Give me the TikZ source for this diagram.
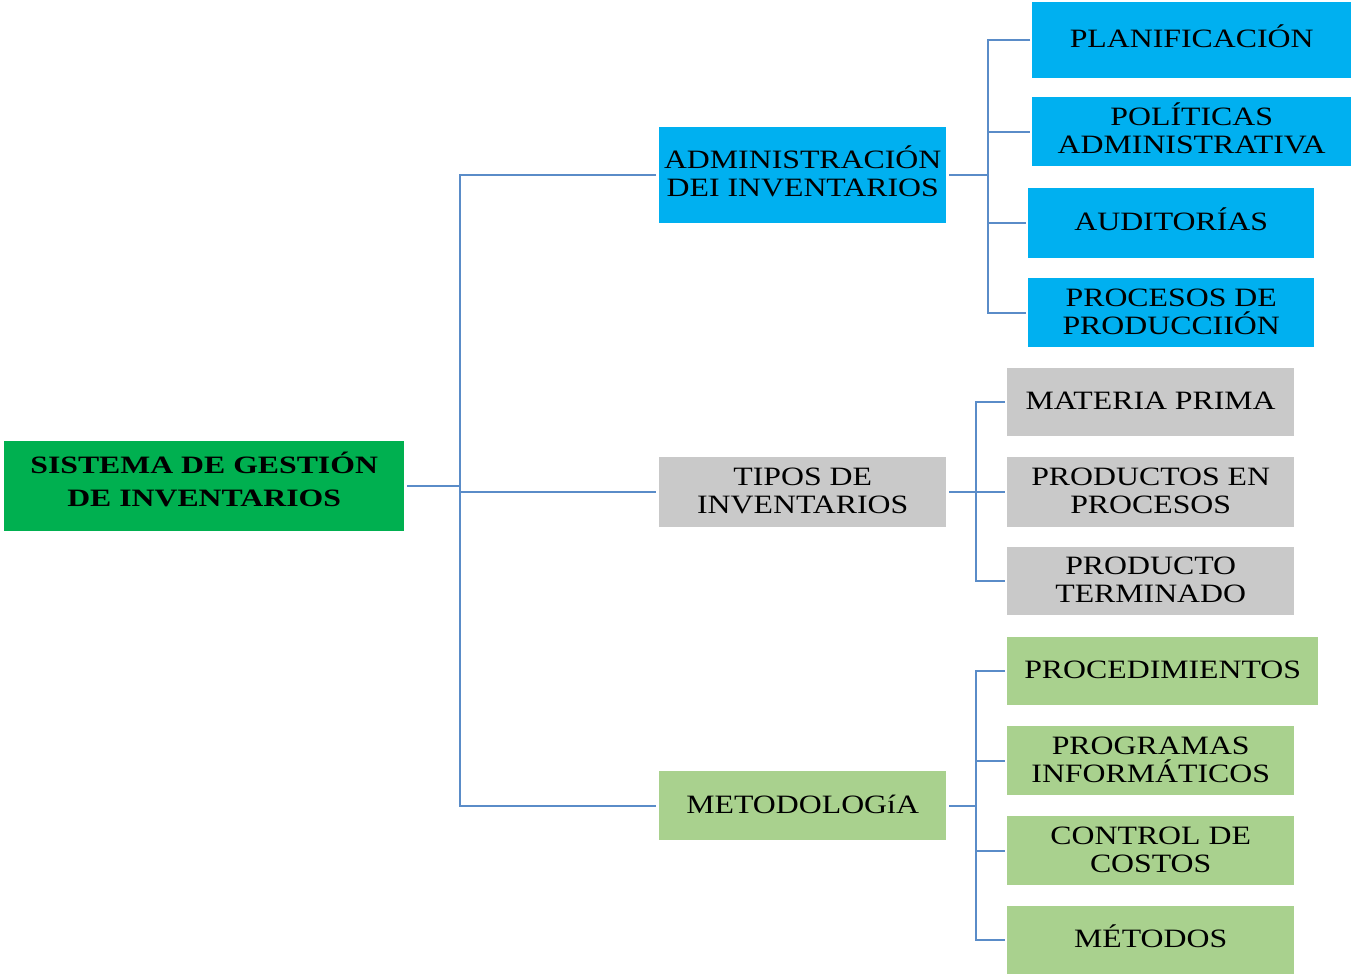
\documentclass[tikz,border=0pt]{standalone}
\usepackage{fontspec}
\setmainfont{Liberation Serif}[FakeStretch=1.2]
\newfontfamily\rootfont{Liberation Serif}[FakeStretch=1.27]
\newcommand\tightlines{\lineskiplimit=-50pt\relax\lineskip=0pt\relax}
\newcommand\ts{\rule{0pt}{24pt}}
\newcommand\botstrut[1]{\rule[-#1]{0pt}{#1}}
\definecolor{rootgreen}{HTML}{00B050}
\definecolor{skyblue}{HTML}{00B0F0}
\definecolor{boxgray}{HTML}{C9C9C9}
\definecolor{leafgreen}{HTML}{A9D18E}
\definecolor{linkblue}{HTML}{5A8CC8}
\begin{document}
\begin{tikzpicture}[x=1pt,y=-1pt,
  box/.style={inner sep=0pt, align=center, anchor=north west,
    font=\fontsize{26.5}{28}\selectfont\tightlines, text=black,
    execute at end node={\botstrut{8.5pt}}},
  rootbox/.style={box, font=\rootfont\fontsize{25}{33}\selectfont\bfseries\tightlines,
    execute at end node={\botstrut{15.5pt}}},
  link/.style={draw=linkblue, line width=2.2pt}]
\useasboundingbox (0,0) rectangle (1351,974);

% root
\node[rootbox, fill=rootgreen, minimum width=400pt, minimum height=90pt] (root) at (4,441)
  {\ts SISTEMA DE GESTIÓN\\DE INVENTARIOS};

% first level
\node[box, fill=skyblue, minimum width=287pt, minimum height=96pt] (adm) at (659,127)
  {\ts ADMINISTRACIÓN\\DEI INVENTARIOS};
\node[box, fill=boxgray, minimum width=287pt, minimum height=70pt] (tip) at (659,457)
  {\ts TIPOS DE\\INVENTARIOS};
\node[box, fill=leafgreen, minimum width=287pt, minimum height=69pt] (met) at (659,771)
  {\ts METODOLOGíA};

% second level: administration
\node[box, fill=skyblue, minimum width=319pt, minimum height=76pt] (pla) at (1032,2)
  {\ts PLANIFICACIÓN};
\node[box, fill=skyblue, minimum width=319pt, minimum height=69pt] (pol) at (1032,97)
  {\ts POLÍTICAS\\ADMINISTRATIVA};
\node[box, fill=skyblue, minimum width=286pt, minimum height=70pt] (aud) at (1028,188)
  {\ts AUDITORÍAS};
\node[box, fill=skyblue, minimum width=286pt, minimum height=69pt] (pro) at (1028,278)
  {\ts PROCESOS DE\\PRODUCCIIÓN};

% second level: inventory types
\node[box, fill=boxgray, minimum width=287pt, minimum height=68pt] (mat) at (1007,368)
  {\ts MATERIA PRIMA};
\node[box, fill=boxgray, minimum width=287pt, minimum height=70pt] (pep) at (1007,457)
  {\ts PRODUCTOS EN\\PROCESOS};
\node[box, fill=boxgray, minimum width=287pt, minimum height=68pt] (pte) at (1007,547)
  {\ts PRODUCTO\\TERMINADO};

% second level: methodology
\node[box, fill=leafgreen, minimum width=311pt, minimum height=68pt] (prc) at (1007,637)
  {\ts PROCEDIMIENTOS};
\node[box, fill=leafgreen, minimum width=287pt, minimum height=69pt] (prg) at (1007,726)
  {\ts PROGRAMAS\\INFORMÁTICOS};
\node[box, fill=leafgreen, minimum width=287pt, minimum height=69pt] (ctl) at (1007,816)
  {\ts CONTROL DE\\COSTOS};
\node[box, fill=leafgreen, minimum width=287pt, minimum height=68pt] (mtd) at (1007,906)
  {\ts MÉTODOS};

% fork columns
\coordinate (t0) at (460,0);
\coordinate (t1) at (988,0);
\coordinate (t2) at (976,0);

% root to first level
\draw[link, shorten <=3pt] (root.east) -- (root.east -| t0);
\draw[link, shorten <=3pt, shorten >=3pt] (adm.west) -| (t0 |- met.west) -- (met.west);
\draw[link, shorten >=3pt] (t0 |- tip.west) -- (tip.west);

% administration branch
\draw[link, shorten <=3pt] (adm.east) -- (adm.east -| t1);
\draw[link, shorten <=2pt, shorten >=2pt] (pla.west) -| (t1 |- pro.west) -- (pro.west);
\draw[link, shorten >=2pt] (t1 |- pol.west) -- (pol.west);
\draw[link, shorten >=2pt] (t1 |- aud.west) -- (aud.west);

% inventory types branch
\draw[link, shorten <=3pt, shorten >=2pt] (tip.east) -- (pep.west);
\draw[link, shorten <=2pt, shorten >=2pt] (mat.west) -| (t2 |- pte.west) -- (pte.west);

% methodology branch
\draw[link, shorten <=3pt] (met.east) -- (met.east -| t2);
\draw[link, shorten <=2pt, shorten >=2pt] (prc.west) -| (t2 |- mtd.west) -- (mtd.west);
\draw[link, shorten >=2pt] (t2 |- prg.west) -- (prg.west);
\draw[link, shorten >=2pt] (t2 |- ctl.west) -- (ctl.west);
\end{tikzpicture}
\end{document}
